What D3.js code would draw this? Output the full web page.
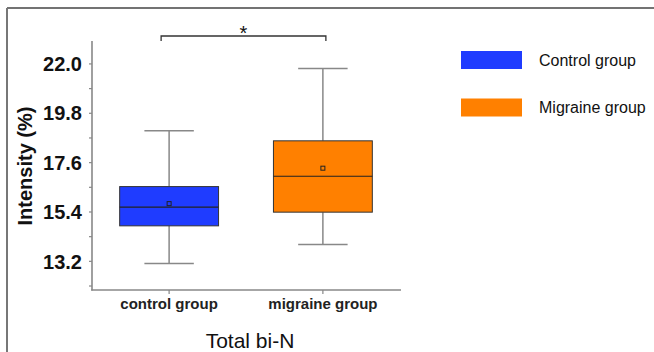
<!DOCTYPE html>
<html><head><meta charset="utf-8">
<script src="https://cdn.jsdelivr.net/npm/d3@7"></script>
<style>body{margin:0;background:#fff}svg{display:block}text{font-family:Arial,"Liberation Sans",sans-serif}</style>
</head><body>
<svg id="c" width="654" height="352"></svg>
<script>
const categories = ["control group", "migraine group"];
const legendLabels = ["Control group", "Migraine group"];
const whiskerMin = [13.08, 13.93];
const q1 = [14.76, 15.37];
const median = [15.59, 16.97];
const q3 = [16.51, 18.55];
const whiskerMax = [19.0, 21.77];
const means = [15.75, 17.33];
const yTicks = [13.2, 15.4, 17.6, 19.8, 22.0];
const yMinorTicks = [12.1, 14.3, 16.5, 18.7, 20.9];
const colors = ["#1f3cff", "#ff8000"];

const svg = d3.select("#c");
// frame
svg.append("line").attr("x1",7).attr("x2",654).attr("y1",8).attr("y2",8).attr("stroke","#444").attr("stroke-width",1.6);
svg.append("line").attr("x1",7).attr("x2",7).attr("y1",8).attr("y2",352).attr("stroke","#777").attr("stroke-width",2);

const y = d3.scaleLinear().domain([11.9, 23.0]).range([290, 41]);
const x = d3.scaleBand().domain(categories).range([92, 400]).paddingInner(0.357).paddingOuter(0.18);
const bw = x.bandwidth();

// axes
const axisColor = "#888";
svg.append("line").attr("x1",92).attr("x2",92).attr("y1",y.range()[1]).attr("y2",290.5).attr("stroke",axisColor).attr("stroke-width",1.6);
svg.append("line").attr("x1",91.2).attr("x2",401).attr("y1",290).attr("y2",290).attr("stroke",axisColor).attr("stroke-width",1.6);
const yAxis = d3.axisLeft(y).tickValues(yTicks).tickSize(3).tickFormat(d3.format(".1f"));
const gy = svg.append("g").attr("transform","translate(92,0)").call(yAxis);
gy.select(".domain").remove();
gy.selectAll("line").attr("stroke",axisColor).attr("stroke-width",1.2);
gy.selectAll("text").attr("font-size",20).attr("font-weight","bold").attr("fill","#111").attr("x",-10).attr("dy","0.36em");
const gym = svg.append("g").attr("transform","translate(92,0)").call(d3.axisLeft(y).tickValues(yMinorTicks).tickSize(3).tickFormat(""));
gym.select(".domain").remove();
gym.selectAll("line").attr("stroke",axisColor).attr("stroke-width",1.2);

const xAxis = d3.axisBottom(x).tickSize(4).tickSizeOuter(0);
const gx = svg.append("g").attr("transform","translate(0,290)").call(xAxis);
gx.select(".domain").remove();
gx.selectAll("line").attr("stroke",axisColor).attr("stroke-width",1.2);
gx.selectAll("text").attr("font-size",15).attr("font-weight","bold").attr("fill","#222").attr("y",8).attr("dy","0.71em");

// axis titles
svg.append("text").attr("transform","translate(32,166) rotate(-90)").attr("text-anchor","middle")
  .attr("font-size",20).attr("font-weight","bold").attr("fill","#111").text("Intensity (%)");
svg.append("text").attr("x",250).attr("y",348).attr("text-anchor","middle").attr("font-size",21).attr("fill","#111").text("Total bi-N");

// boxes
categories.forEach((c,i)=>{
  const cx = x(c) + bw/2;
  const g = svg.append("g");
  const wc = "#888";
  g.append("line").attr("x1",cx).attr("x2",cx).attr("y1",y(whiskerMax[i])).attr("y2",y(q3[i])).attr("stroke",wc).attr("stroke-width",1.5);
  g.append("line").attr("x1",cx).attr("x2",cx).attr("y1",y(q1[i])).attr("y2",y(whiskerMin[i])).attr("stroke",wc).attr("stroke-width",1.5);
  g.append("line").attr("x1",cx-bw/4).attr("x2",cx+bw/4).attr("y1",y(whiskerMax[i])).attr("y2",y(whiskerMax[i])).attr("stroke",wc).attr("stroke-width",1.5);
  g.append("line").attr("x1",cx-bw/4).attr("x2",cx+bw/4).attr("y1",y(whiskerMin[i])).attr("y2",y(whiskerMin[i])).attr("stroke",wc).attr("stroke-width",1.5);
  g.append("rect").attr("x",x(c)).attr("width",bw).attr("y",y(q3[i])).attr("height",y(q1[i])-y(q3[i]))
    .attr("fill",colors[i]).attr("stroke","#333").attr("stroke-width",1);
  g.append("line").attr("x1",x(c)).attr("x2",x(c)+bw).attr("y1",y(median[i])).attr("y2",y(median[i])).attr("stroke","#222").attr("stroke-width",1.2);
  g.append("rect").attr("x",cx-2).attr("y",y(means[i])-2).attr("width",4).attr("height",4).attr("fill","none").attr("stroke","#222").attr("stroke-width",1);
});

// significance bracket
const bx1 = x(categories[0]) + bw/2 - 8, bx2 = x(categories[1]) + bw/2 + 3;
svg.append("path").attr("d",`M${bx1},41V36H${bx2}V41`).attr("fill","none").attr("stroke","#333").attr("stroke-width",1.3);
svg.append("text").attr("x",(bx1+bx2)/2).attr("y",40).attr("text-anchor","middle").attr("font-size",20).attr("fill","#111").text("*");

// legend
legendLabels.forEach((l,i)=>{
  const ly = 51 + i*47.5;
  svg.append("rect").attr("x",461).attr("y",ly).attr("width",61).attr("height",18).attr("fill",colors[i]);
  svg.append("text").attr("x",539).attr("y",ly+9).attr("dy","0.35em").attr("font-size",16).attr("fill","#111").text(l);
});
</script>
</body></html>
